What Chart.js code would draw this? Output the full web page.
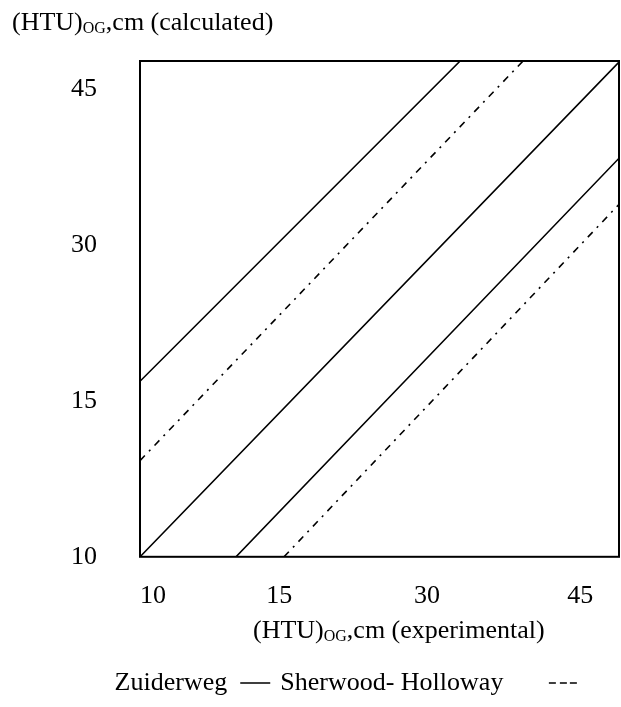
<!DOCTYPE html>
<html>
<head>
<meta charset="utf-8">
<script src="https://cdn.jsdelivr.net/npm/chart.js@4.4.1/dist/chart.umd.min.js"></script>
<style>
  html, body { margin: 0; padding: 0; background: #fff; }
  canvas { display: block; }
</style>
</head>
<body>
<canvas id="htuChart" width="621" height="707"></canvas>
<script>
// === Datos (unidades del gráfico, 0-100 en cada eje) ===
const xTickValues = [2.7, 29, 59.8, 91.7];
const xTickLabels = ['10', '15', '30', '45'];
const yTickValues = [0, 31.3, 62.8, 94.3];
const yTickLabels = ['10', '15', '30', '45'];

// rectas de Zuiderweg (continuas)
const zuiderwegUpper = [[0, 35.4], [66.7, 100]];
const zuiderwegMid = [[0, 0], [100, 100]];
const zuiderwegLower = [[20, 0], [100, 80.6]];

// rectas de Sherwood-Holloway (raya-punto)
const sherwoodUpper = [[0, 19.4], [79.8, 100]];
const sherwoodLower = [[30, 0], [100, 71.3]];

const serif = '"Liberation Serif", "Times New Roman", serif';
const nbsp = n => '\u00A0'.repeat(n);

// une varios tramos en un solo dataset, separados por huecos
function joinSegments(segments) {
  const out = [];
  segments.forEach((seg, i) => {
    if (i) out.push({ x: null, y: null });
    seg.forEach(([x, y]) => out.push({ x, y }));
  });
  return out;
}

// texto con subíndice "OG"
function drawSubText(ctx, x, y, before, sub, after) {
  ctx.save();
  ctx.fillStyle = '#000';
  ctx.textBaseline = 'alphabetic';
  ctx.textAlign = 'left';
  ctx.font = '26px ' + serif;
  ctx.fillText(before, x, y);
  x += ctx.measureText(before).width;
  ctx.font = '16px ' + serif;
  ctx.fillText(sub, x, y + 3);
  x += ctx.measureText(sub).width;
  ctx.font = '26px ' + serif;
  ctx.fillText(after, x, y);
  ctx.restore();
}

// === Marco y títulos de ejes ===
const frameAndTitles = {
  id: 'frameAndTitles',
  afterDatasetsDraw(chart) {
    const { ctx, chartArea } = chart;
    ctx.save();
    ctx.strokeStyle = '#000';
    ctx.lineWidth = 2;
    ctx.strokeRect(chartArea.left, chartArea.top, chartArea.right - chartArea.left - 1, chartArea.bottom - chartArea.top);
    ctx.restore();

    drawSubText(ctx, 12, 30, '(HTU)', 'OG', ',cm (calculated)');
    drawSubText(ctx, chartArea.left + 113, chartArea.bottom + 81, '(HTU)', 'OG', ',cm (experimental)');
  }
};

const ctx = document.getElementById('htuChart').getContext('2d');

new Chart(ctx, {
  type: 'line',
  data: {
    datasets: [{
      label: nbsp(7) + 'Zuiderweg',
      data: joinSegments([zuiderwegUpper, zuiderwegMid, zuiderwegLower]),
      borderColor: '#000',
      backgroundColor: '#000',
      borderWidth: 1.6,
      pointRadius: 0,
      spanGaps: false
    }, {
      label: 'Sherwood- Holloway' + nbsp(5),
      data: joinSegments([sherwoodUpper, sherwoodLower]),
      borderColor: '#000',
      backgroundColor: '#000',
      borderWidth: 1.6,
      borderDash: [7, 6, 2, 6],
      pointRadius: 0,
      spanGaps: false
    }]
  },
  options: {
    responsive: false,
    animation: false,
    layout: {
      padding: { top: 61, left: 28, right: 1, bottom: 1 }
    },
    scales: {
      x: {
        type: 'linear',
        min: 0,
        max: 100,
        afterBuildTicks: axis => { axis.ticks = xTickValues.map(v => ({ value: v })); },
        afterFit: scale => { scale.height += 24; },
        ticks: {
          callback: (value, index) => xTickLabels[index],
          autoSkip: false,
          maxRotation: 0,
          padding: 24,
          color: '#000',
          font: { family: serif, size: 26 }
        },
        grid: { display: false, drawTicks: false },
        border: { display: false }
      },
      y: {
        type: 'linear',
        min: 0,
        max: 100,
        afterBuildTicks: axis => { axis.ticks = yTickValues.map(v => ({ value: v })); },
        ticks: {
          callback: (value, index) => yTickLabels[index],
          autoSkip: false,
          padding: 43,
          color: '#000',
          font: { family: serif, size: 26 }
        },
        grid: { display: false, drawTicks: false },
        border: { display: false }
      }
    },
    plugins: {
      legend: {
        position: 'bottom',
        rtl: true,
        reverse: true,
        labels: {
          color: '#000',
          font: { family: serif, size: 26 },
          boxWidth: 30,
          boxHeight: 0,
          padding: 10
        }
      },
      tooltip: { enabled: false }
    }
  },
  plugins: [frameAndTitles]
});
</script>
</body>
</html>
